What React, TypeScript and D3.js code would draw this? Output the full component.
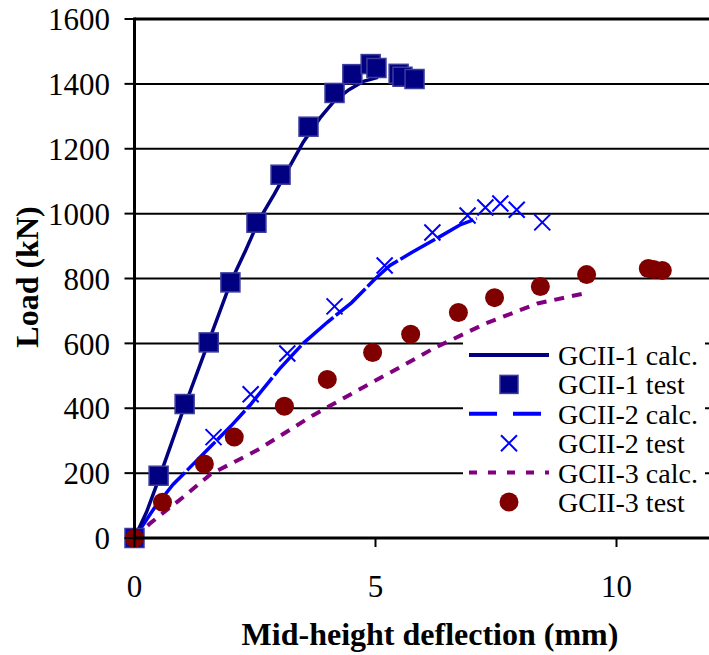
import React from "react";
import * as d3 from "d3";

type Pt = [number, number];

// GCII-1
const calc1: Pt[] = [
  [0, 0], [0.25, 80], [0.5, 180], [0.75, 285], [1, 390], [1.5, 590], [2, 790],
  [2.3, 885], [2.6, 985], [2.9, 1060], [3.2, 1140], [3.5, 1220], [3.85, 1295],
  [4.15, 1348], [4.45, 1382], [4.75, 1408], [5.05, 1420],
];
const test1: Pt[] = [
  [0, 0], [0.5, 192], [1.04, 413], [1.54, 603], [1.99, 788], [2.53, 972],
  [3.03, 1120], [3.61, 1268], [4.15, 1372], [4.52, 1430], [4.9, 1461],
  [5.02, 1449], [5.48, 1431], [5.56, 1422], [5.81, 1415],
];

// GCII-2
const calc2: Pt[] = [
  [0, 0], [0.4, 90], [0.8, 165], [1.1, 210], [1.6, 285], [2.0, 345], [2.4, 410],
  [3.0, 520], [3.5, 600], [4.0, 665], [4.5, 725], [5.0, 800], [5.3, 840],
  [5.75, 880], [6.3, 926], [6.75, 965], [7.1, 985],
];
const test2: Pt[] = [
  [0, 0], [1.64, 311], [2.41, 443], [3.17, 569], [4.15, 714], [5.19, 840],
  [6.18, 942], [6.91, 994], [7.28, 1019], [7.59, 1031], [7.93, 1012], [8.46, 973],
];

// GCII-3
const calc3: Pt[] = [
  [0, 0], [0.33, 46], [1, 125], [1.58, 197], [2.55, 271], [3.7, 378], [4.7, 461],
  [5.5, 526], [6.2, 584], [7.28, 661], [8.36, 723], [9.42, 757],
];
const test3: Pt[] = [
  [0, 0], [0.58, 110], [1.45, 228], [2.07, 311], [3.11, 406], [4.0, 489],
  [4.94, 572], [5.73, 628], [6.72, 695], [7.47, 741], [8.42, 775], [9.38, 812],
  [10.66, 831], [10.77, 828], [10.95, 825],
];

const yTicks = [0, 200, 400, 600, 800, 1000, 1200, 1400, 1600];
const xTicks = [0, 5, 10];
const legendLabels = [
  "GCII-1 calc.", "GCII-1 test", "GCII-2 calc.", "GCII-2 test", "GCII-3 calc.", "GCII-3 test",
];

const NAVY = "#000080";
const BLUE = "#0000ff";
const PURPLE = "#800080";
const MAROON = "#800000";
const FONT = "'Liberation Serif', 'Times New Roman', serif";

function Square({ cx, cy, s = 19 }: { cx: number; cy: number; s?: number }) {
  return (
    <rect x={cx - s / 2} y={cy - s / 2} width={s} height={s}
      fill={NAVY} stroke="#3c3c9c" strokeWidth={1.5} />
  );
}

function Cross({ cx, cy, s = 8 }: { cx: number; cy: number; s?: number }) {
  return (
    <path d={`M${cx - s},${cy - s}L${cx + s},${cy + s}M${cx - s},${cy + s}L${cx + s},${cy - s}`}
      stroke={BLUE} strokeWidth={2} fill="none" />
  );
}

export default function App() {
  const width = 709;
  const height = 655;
  const x = d3.scaleLinear().domain([0, 12]).range([134.5, 712.9]);
  const y = d3.scaleLinear().domain([0, 1600]).range([538, 19]);
  const line = d3.line<Pt>().x((d) => x(d[0])).y((d) => y(d[1]));

  const legX = 463;
  const legTop = 336;
  const rowH = 29.4;
  const row0 = 355;

  return (
    <svg width={width} height={height}
      style={{ position: "fixed", left: 0, top: 0, fontFamily: FONT }}>
      <rect width={width} height={height} fill="#fff" />

      {/* gridlines */}
      {yTicks.slice(1, -1).map((t) => (
        <line key={t} x1={x(0)} x2={width} y1={y(t)} y2={y(t)} stroke="#000" strokeWidth={2} />
      ))}
      <line x1={x(0)} x2={width} y1={y(1600)} y2={y(1600)} stroke="#000" strokeWidth={3} />

      {/* legend box (covers grid) */}
      <rect x={legX} y={legTop} width={705 - legX} height={184} fill="#fff" />

      {/* calc lines */}
      <path d={line(calc3) ?? ""} fill="none" stroke={PURPLE} strokeWidth={4} strokeDasharray="10,8" />
      <path d={line(calc2) ?? ""} fill="none" stroke={BLUE} strokeWidth={3.5} strokeDasharray="40,3" />
      <path d={line(calc1) ?? ""} fill="none" stroke={NAVY} strokeWidth={3.5} />

      {/* markers */}
      {test1.map((d, i) => <Square key={"s" + i} cx={x(d[0])} cy={y(d[1])} />)}
      {test2.map((d, i) => <Cross key={"c" + i} cx={x(d[0])} cy={y(d[1])} />)}
      {test3.map((d, i) => <circle key={"o" + i} cx={x(d[0])} cy={y(d[1])} r={9.5} fill={MAROON} />)}

      {/* axes */}
      <line x1={x(0)} x2={width} y1={y(0)} y2={y(0)} stroke="#000" strokeWidth={3} />
      <line x1={x(0)} x2={x(0)} y1={y(1600) - 1.5} y2={y(0) + 1.5} stroke="#000" strokeWidth={3} />
      {yTicks.map((t) => (
        <g key={t}>
          <line x1={x(0) - 10} x2={x(0)} y1={y(t)} y2={y(t)} stroke="#000" strokeWidth={2} />
          <text x={110} y={y(t)} dy="0.36em" textAnchor="end" fontSize={31}>{t}</text>
        </g>
      ))}
      {xTicks.map((t) => (
        <g key={t}>
          <line x1={x(t)} x2={x(t)} y1={y(0)} y2={y(0) + 9} stroke="#000" strokeWidth={2} />
          <text x={x(t)} y={597} textAnchor="middle" fontSize={31}>{t}</text>
        </g>
      ))}

      {/* axis titles */}
      <text x={430} y={645} textAnchor="middle" fontSize={32} fontWeight="bold">
        Mid-height deflection (mm)
      </text>
      <text transform={`translate(38,277) rotate(-90)`} textAnchor="middle" fontSize={32} fontWeight="bold">
        Load (kN)
      </text>

      {/* legend */}
      {legendLabels.map((lab, i) => {
        const cy = row0 + i * rowH;
        let sample: React.ReactNode = null;
        if (i === 0) sample = <line x1={469} x2={549} y1={cy} y2={cy} stroke={NAVY} strokeWidth={4} />;
        if (i === 1) sample = <Square cx={509} cy={cy} s={18} />;
        if (i === 2) sample = <line x1={469} x2={549} y1={cy} y2={cy} stroke={BLUE} strokeWidth={4} strokeDasharray="28,16" />;
        if (i === 3) sample = <Cross cx={509} cy={cy} s={8} />;
        if (i === 4) sample = <line x1={469} x2={549} y1={cy} y2={cy} stroke={PURPLE} strokeWidth={4} strokeDasharray="8,11" />;
        if (i === 5) sample = <circle cx={509} cy={cy} r={9.5} fill={MAROON} />;
        return (
          <g key={lab}>
            {sample}
            <text x={558} y={cy} dy="0.36em" fontSize={28}>{lab}</text>
          </g>
        );
      })}
    </svg>
  );
}
